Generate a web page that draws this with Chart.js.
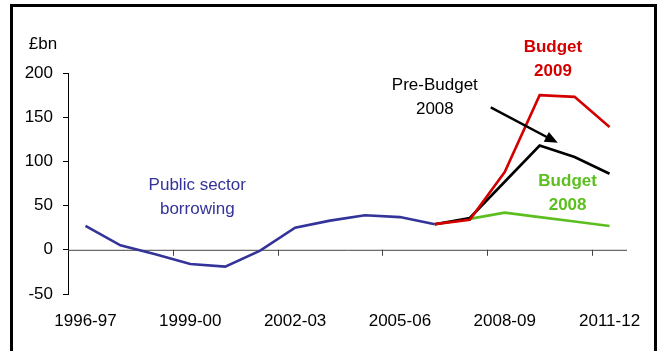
<!DOCTYPE html>
<html>
<head>
<meta charset="utf-8">
<script src="https://cdn.jsdelivr.net/npm/chart.js@4.4.1/dist/chart.umd.min.js"></script>
<style>
  html, body { margin: 0; padding: 0; background: #fff; }
  canvas { display: block; }
</style>
</head>
<body>
<canvas id="borrowChart" width="660" height="351"></canvas>
<script>
// years on the x axis
const years = ['1996-97', '1997-98', '1998-99', '1999-00', '2000-01', '2001-02', '2002-03', '2003-04',
               '2004-05', '2005-06', '2006-07', '2007-08', '2008-09', '2009-10', '2010-11', '2011-12'];
// £bn
const publicBorrowing = [27, 5, -5, -16, -19, -1, 25, 33, 39, 37, 29, null, null, null, null, null];
const budget2009      = [null, null, null, null, null, null, null, null, null, null, 29, 34, 88, 175, 173, 139];
const preBudget2008   = [null, null, null, null, null, null, null, null, null, null, 29, 36, 77, 118, 105, 86];
const budget2008      = [null, null, null, null, null, null, null, null, null, null, 29, 35, 42, 37, 32, 27];
const yTicks = [-50, 0, 50, 100, 150, 200];
const labelEvery = 3;

const FONT = '"Liberation Sans", Arial, sans-serif';
const BLUE = '#333399', RED = '#d40000', GREEN = '#5cbf1f';

// text notes on the plot: [x index, £bn, lines, colour, bold]
const notes = [
    [3.2, 59, ['Public sector', 'borrowing'], BLUE, false],
    [13.38, 216, ['Budget', '2009'], RED, true],
    [10.0, 173, ['Pre-Budget', '2008'], '#000', false],
    [13.8, 64, ['Budget', '2008'], GREEN, true]
];
// arrow from the Pre-Budget label to its line, in data units
const arrowFrom = [11.6, 161];
const arrowTo = [13.52, 121];

const decorations = {
    id: 'decorations',
    beforeDatasetsDraw(chart) {
        const { ctx, chartArea, scales: { x, y } } = chart;
        const y0 = y.getPixelForValue(0);
        ctx.save();
        // zero line
        ctx.strokeStyle = '#444';
        ctx.lineWidth = 1;
        ctx.beginPath();
        ctx.moveTo(chartArea.left, y0 + 0.5);
        ctx.lineTo(chartArea.right, y0 + 0.5);
        ctx.stroke();
        // tick marks between categories, every third one
        ctx.beginPath();
        for (let i = labelEvery; i < years.length; i += labelEvery) {
            const px = Math.round((x.getPixelForValue(i - 1) + x.getPixelForValue(i)) / 2) + 0.5;
            ctx.moveTo(px, y0);
            ctx.lineTo(px, y0 + 6);
        }
        ctx.stroke();
        ctx.restore();
    },
    afterDatasetsDraw(chart) {
        const { ctx, chartArea, scales: { x, y } } = chart;
        ctx.save();
        ctx.textAlign = 'center';
        ctx.textBaseline = 'middle';
        notes.forEach(([xi, v, lines, colour, bold]) => {
            ctx.font = (bold ? 'bold ' : '') + '17px ' + FONT;
            ctx.fillStyle = colour;
            const cx = x.getPixelForValue(xi);
            const cy = y.getPixelForValue(v);
            lines.forEach((t, k) => ctx.fillText(t, cx, cy + (k - (lines.length - 1) / 2) * 24));
        });

        // unit label above the axis
        ctx.font = '17px ' + FONT;
        ctx.fillStyle = '#000';
        ctx.fillText('£bn', chartArea.left - 25, y.getPixelForValue(232));

        // arrow
        const x1 = x.getPixelForValue(arrowFrom[0]), y1 = y.getPixelForValue(arrowFrom[1]);
        const x2 = x.getPixelForValue(arrowTo[0]), y2 = y.getPixelForValue(arrowTo[1]);
        const ang = Math.atan2(y2 - y1, x2 - x1);
        const head = 13, half = 5.5;
        ctx.strokeStyle = '#000';
        ctx.lineWidth = 2.5;
        ctx.beginPath();
        ctx.moveTo(x1, y1);
        ctx.lineTo(x2 - Math.cos(ang) * head * 0.8, y2 - Math.sin(ang) * head * 0.8);
        ctx.stroke();
        ctx.fillStyle = '#000';
        ctx.beginPath();
        ctx.moveTo(x2, y2);
        ctx.lineTo(x2 - Math.cos(ang) * head - Math.sin(ang) * half, y2 - Math.sin(ang) * head + Math.cos(ang) * half);
        ctx.lineTo(x2 - Math.cos(ang) * head + Math.sin(ang) * half, y2 - Math.sin(ang) * head - Math.cos(ang) * half);
        ctx.closePath();
        ctx.fill();
        ctx.restore();
    },
    afterDraw(chart) {
        // frame round the figure, runs off the bottom edge
        const ctx = chart.ctx;
        ctx.save();
        ctx.strokeStyle = '#000';
        ctx.lineWidth = 3;
        ctx.strokeRect(11.5, 5.5, 644, 400);
        ctx.restore();
    }
};

function line(label, data, colour) {
    return {
        label: label,
        data: data,
        borderColor: colour,
        backgroundColor: colour,
        borderWidth: 2.6,
        pointRadius: 0,
        tension: 0,
        spanGaps: false,
        fill: false
    };
}

new Chart(document.getElementById('borrowChart'), {
    type: 'line',
    data: {
        labels: years,
        datasets: [
            line('Budget 2009', budget2009, RED),
            line('Pre-Budget 2008', preBudget2008, '#000'),
            line('Budget 2008', budget2008, GREEN),
            line('Public sector borrowing', publicBorrowing, BLUE)
        ]
    },
    options: {
        responsive: false,
        animation: false,
        devicePixelRatio: 1,
        layout: { padding: { top: 73, right: 33, left: 0, bottom: 0 } },
        plugins: {
            legend: { display: false },
            title: { display: false },
            tooltip: { enabled: false }
        },
        scales: {
            x: {
                offset: true,
                grid: { display: false, drawTicks: false },
                border: { display: false },
                ticks: {
                    autoSkip: false,
                    maxRotation: 0,
                    padding: 17,
                    color: '#000',
                    font: { family: FONT, size: 17 },
                    callback: (v, i) => (i % labelEvery === 0 ? years[i] : '')
                },
                afterFit: s => { s.height = 57; }
            },
            y: {
                min: yTicks[0],
                max: yTicks[yTicks.length - 1],
                afterBuildTicks: s => { s.ticks = yTicks.map(v => ({ value: v })); },
                grid: { drawOnChartArea: false, tickLength: 5, tickColor: '#000' },
                border: { color: '#000', width: 1 },
                ticks: {
                    padding: 10,
                    color: '#000',
                    font: { family: FONT, size: 17 }
                },
                afterFit: s => { s.width = 68; }
            }
        }
    },
    plugins: [decorations]
});
</script>
</body>
</html>
